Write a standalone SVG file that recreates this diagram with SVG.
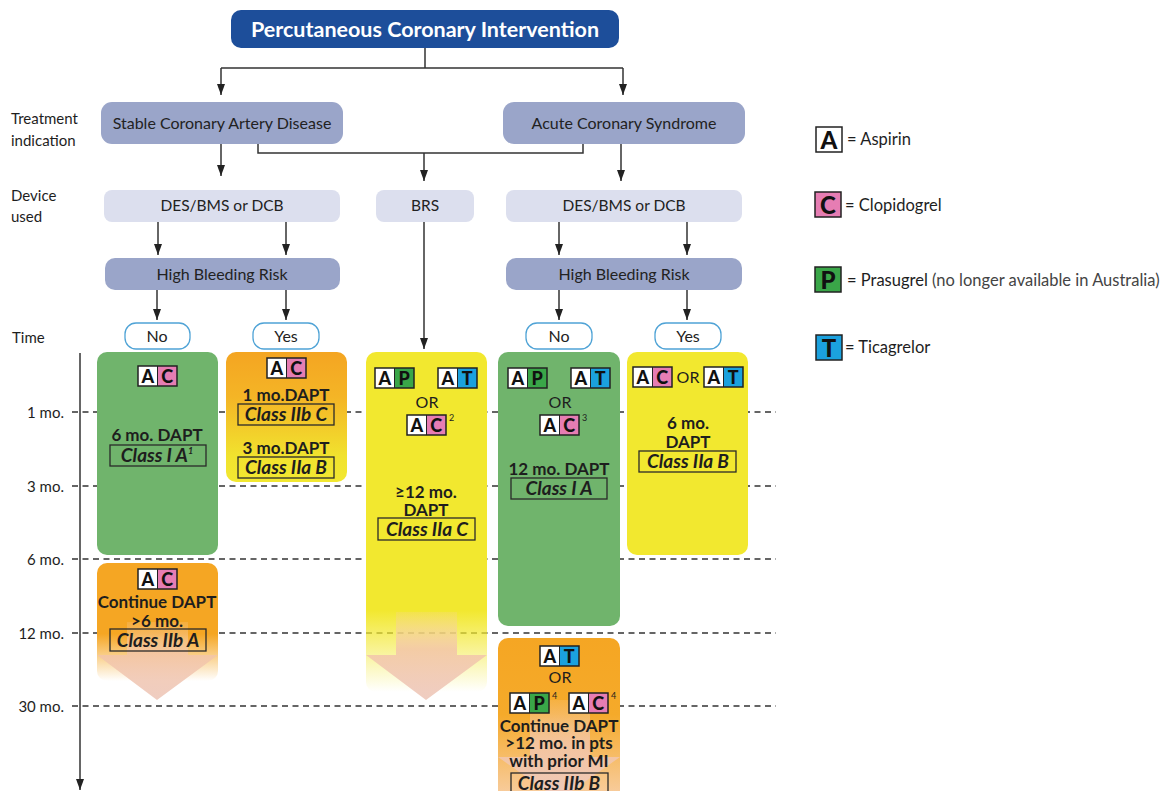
<svg xmlns="http://www.w3.org/2000/svg" width="1169" height="791" viewBox="0 0 1169 791">
<defs>
<style>
text { font-family: Lato, "Open Sans", "Liberation Sans", sans-serif; fill:#1e1e1e; }
.title { font-size:21.5px; font-weight:700; fill:#ffffff; text-anchor:middle; }
.lbl { font-size:16px; text-anchor:middle; fill:#222; }
.dl { font-size:15.5px; text-anchor:middle; fill:#222; }
.side { font-size:15px; }
.tick { font-size:15px; text-anchor:end; }
.hd { font-size:17px; font-weight:700; text-anchor:middle; }
.cls { font-size:19px; font-weight:700; font-style:italic; text-anchor:middle; }
.clsbox { fill:none; stroke:#2a2a2a; stroke-width:1.3; }
.or { font-size:16px; text-anchor:middle; }
.bl { font-size:18px; font-weight:900; text-anchor:middle; fill:#111; }
.blL { font-size:24px; font-weight:900; text-anchor:middle; fill:#111; }
.sup { font-size:9px; }
.leg { font-size:16.5px; }
.legs { font-size:16.5px; fill:#444; }
.ind { fill:#9aa5c9; }
.dev { fill:#dcdfee; }
.pill { fill:#ffffff; stroke:#4fa3d6; stroke-width:1.3; }
.conn { fill:none; stroke:#333; stroke-width:1.5; }
.dash { stroke:#333; stroke-width:1.3; stroke-dasharray:6 4.5; }
.sqA { fill:#ffffff; } .sqC { fill:#e67db3; } .sqP { fill:#3aa648; } .sqT { fill:#1ba1de; }
.bord { fill:none; stroke:#222; stroke-width:1.5; }
.div { stroke:#222; stroke-width:1; }
</style>
<marker id="arr" viewBox="0 0 11 8" refX="11" refY="4" markerWidth="11" markerHeight="8" markerUnits="userSpaceOnUse" orient="auto">
<path d="M0,0 L11,4 L0,8 z" fill="#222"/>
</marker>
<linearGradient id="gOY" x1="0" y1="0" x2="0" y2="1">
<stop offset="0" stop-color="#f4a522"/><stop offset="0.35" stop-color="#f4b526"/><stop offset="0.8" stop-color="#f1e22e"/><stop offset="1" stop-color="#f2e831"/>
</linearGradient>
<linearGradient id="gFadeO" x1="0" y1="0" x2="0" y2="1">
<stop offset="0" stop-color="#f5a623"/><stop offset="0.6" stop-color="#f5a623"/><stop offset="1" stop-color="#f5a623" stop-opacity="0"/>
</linearGradient>
<linearGradient id="gFadeY" x1="0" y1="0" x2="0" y2="1">
<stop offset="0" stop-color="#f2e82f"/><stop offset="0.76" stop-color="#f2e82f"/><stop offset="1" stop-color="#f2e82f" stop-opacity="0"/>
</linearGradient>
<linearGradient id="gOP" x1="0" y1="0" x2="0" y2="1">
<stop offset="0" stop-color="#f5a623"/><stop offset="0.45" stop-color="#f5aa2a"/><stop offset="1" stop-color="#f8d2b2"/>
</linearGradient>
<linearGradient id="gPeach" x1="0" y1="0" x2="0" y2="1">
<stop offset="0" stop-color="#f8d0a8" stop-opacity="0.2"/><stop offset="0.42" stop-color="#f3c5a8" stop-opacity="0.85"/><stop offset="1" stop-color="#eecabe" stop-opacity="0.95"/>
</linearGradient>
<g id="bAC"><rect class="sqA" width="19.5" height="20"/><rect class="sqC" x="19.5" width="19.5" height="20"/><rect class="bord" width="39" height="20"/><line class="div" x1="19.5" y1="0" x2="19.5" y2="20"/><text class="bl" x="9.75" y="16.8">A</text><text class="bl" x="29.25" y="16.8">C</text></g>
<g id="bAP"><rect class="sqA" width="19.5" height="20"/><rect class="sqP" x="19.5" width="19.5" height="20"/><rect class="bord" width="39" height="20"/><line class="div" x1="19.5" y1="0" x2="19.5" y2="20"/><text class="bl" x="9.75" y="16.8">A</text><text class="bl" x="29.25" y="16.8">P</text></g>
<g id="bAT"><rect class="sqA" width="19.5" height="20"/><rect class="sqT" x="19.5" width="19.5" height="20"/><rect class="bord" width="39" height="20"/><line class="div" x1="19.5" y1="0" x2="19.5" y2="20"/><text class="bl" x="9.75" y="16.8">A</text><text class="bl" x="29.25" y="16.8">T</text></g>
</defs>

<rect width="1169" height="791" fill="#ffffff"/>

<g id="timeline">
<text class="side" x="11" y="124">Treatment</text>
<text class="side" x="11" y="146">indication</text>
<text class="side" x="11" y="201">Device</text>
<text class="side" x="11" y="222">used</text>
<text class="side" x="12" y="343">Time</text>
<text class="tick" x="64" y="418">1 mo.</text>
<text class="tick" x="64" y="492">3 mo.</text>
<text class="tick" x="64" y="565">6 mo.</text>
<text class="tick" x="64" y="639">12 mo.</text>
<text class="tick" x="64" y="712">30 mo.</text>
<line class="dash" x1="72" y1="412" x2="776" y2="412"/>
<line class="dash" x1="72" y1="486" x2="776" y2="486"/>
<line class="dash" x1="72" y1="559" x2="776" y2="559"/>
<line class="dash" x1="72" y1="633" x2="776" y2="633"/>
<line class="dash" x1="72" y1="706" x2="776" y2="706"/>
<line x1="80" y1="353" x2="80" y2="790" stroke="#333" stroke-width="1.5" marker-end="url(#arr)"/>
</g>

<g id="pci"><rect x="231" y="10" width="388" height="38" rx="10" fill="#1d4e9a"/><text class="title" x="425" y="37">Percutaneous Coronary Intervention</text></g>
<g id="scad"><rect class="ind" x="101" y="102" width="242" height="42" rx="11"/><text class="lbl" x="222" y="129">Stable Coronary Artery Disease</text></g>
<g id="acs"><rect class="ind" x="503" y="102" width="242" height="42" rx="11"/><text class="lbl" x="624" y="129">Acute Coronary Syndrome</text></g>
<g id="dev-left"><rect class="dev" x="104" y="190" width="236" height="32" rx="8"/><text class="dl" x="222" y="211">DES/BMS or DCB</text></g>
<g id="dev-brs"><rect class="dev" x="376" y="190" width="98" height="32" rx="8"/><text class="dl" x="425" y="211">BRS</text></g>
<g id="dev-right"><rect class="dev" x="506" y="190" width="236" height="32" rx="8"/><text class="dl" x="624" y="211">DES/BMS or DCB</text></g>
<g id="hbr-left"><rect class="ind" x="105" y="258" width="235" height="32" rx="10"/><text class="lbl" x="222" y="280">High Bleeding Risk</text></g>
<g id="hbr-right"><rect class="ind" x="506" y="258" width="236" height="32" rx="10"/><text class="lbl" x="624" y="280">High Bleeding Risk</text></g>
<g id="no-left"><rect class="pill" x="125" y="323" width="65" height="26" rx="11"/><text class="lbl" x="157" y="342">No</text></g>
<g id="yes-left"><rect class="pill" x="253" y="323" width="66" height="26" rx="11"/><text class="lbl" x="286" y="342">Yes</text></g>
<g id="no-right"><rect class="pill" x="526" y="323" width="66" height="26" rx="11"/><text class="lbl" x="559" y="342">No</text></g>
<g id="yes-right"><rect class="pill" x="655" y="323" width="66" height="26" rx="11"/><text class="lbl" x="688" y="342">Yes</text></g>

<g id="connectors">
<path class="conn" d="M425,48 V68 M221,68 H623"/>
<path class="conn" d="M221,68 V95" marker-end="url(#arr)"/>
<path class="conn" d="M623,68 V95" marker-end="url(#arr)"/>
<path class="conn" d="M221,144 V176" marker-end="url(#arr)"/>
<path class="conn" d="M258,144 V153 H583 V144"/>
<path class="conn" d="M424,153 V181" marker-end="url(#arr)"/>
<path class="conn" d="M621,144 V181" marker-end="url(#arr)"/>
<path class="conn" d="M158,222 V255" marker-end="url(#arr)"/>
<path class="conn" d="M286,222 V255" marker-end="url(#arr)"/>
<path class="conn" d="M559,222 V255" marker-end="url(#arr)"/>
<path class="conn" d="M687,222 V255" marker-end="url(#arr)"/>
<path class="conn" d="M157,290 V320" marker-end="url(#arr)"/>
<path class="conn" d="M286,290 V320" marker-end="url(#arr)"/>
<path class="conn" d="M559,290 V320" marker-end="url(#arr)"/>
<path class="conn" d="M687,290 V320" marker-end="url(#arr)"/>
<path class="conn" d="M424,222 V349" marker-end="url(#arr)"/>
</g>

<g id="scad-no">
<rect x="97" y="352" width="121" height="203" rx="10" fill="#70b46c"/>
<use href="#bAC" x="138" y="366"/>
<text class="hd" x="157" y="441">6 mo. DAPT</text>
<rect class="clsbox" x="110" y="445" width="96" height="21"/>
<text class="cls" x="157" y="462">Class I A<tspan class="sup" dy="-8">1</tspan></text>
</g>

<g id="scad-yes">
<rect x="226" y="352" width="121" height="130" rx="10" fill="url(#gOY)"/>
<use href="#bAC" x="267" y="358"/>
<text class="hd" x="286" y="401">1 mo.DAPT</text>
<rect class="clsbox" x="238" y="404" width="96" height="21"/>
<text class="cls" x="286" y="421">Class IIb C</text>
<text class="hd" x="286" y="454">3 mo.DAPT</text>
<rect class="clsbox" x="238" y="457" width="96" height="21"/>
<text class="cls" x="286" y="474">Class IIa B</text>
</g>

<g id="scad-continue">
<rect x="97" y="563" width="121" height="118" rx="10" fill="url(#gFadeO)"/>
<polygon points="127,622 188,622 188,655 218,655 157,700 97,655 127,655" fill="url(#gPeach)"/>
<use href="#bAC" x="138" y="569"/>
<text class="hd" x="157" y="608">Continue DAPT</text>
<text class="hd" x="157" y="627">&gt;6 mo.</text>
<rect class="clsbox" x="110" y="629" width="96" height="22"/>
<text class="cls" x="158" y="647">Class IIb A</text>
</g>

<g id="brs">
<rect x="366" y="352" width="121" height="340" rx="10" fill="url(#gFadeY)"/>
<polygon points="396,612 457,612 457,655 487,655 426,700 366,655 396,655" fill="url(#gPeach)"/>
<use href="#bAP" x="375" y="368"/>
<use href="#bAT" x="438" y="368"/>
<text class="or" x="427" y="408">OR</text>
<use href="#bAC" x="407" y="415"/>
<text class="sup" x="449" y="421">2</text>
<text class="hd" x="426" y="498">≥12 mo.</text>
<text class="hd" x="426" y="516">DAPT</text>
<rect class="clsbox" x="378" y="518" width="97" height="22"/>
<text class="cls" x="427" y="536">Class IIa C</text>
</g>

<g id="acs-no">
<rect x="498" y="352" width="122" height="274" rx="10" fill="#70b46c"/>
<use href="#bAP" x="508" y="368"/>
<use href="#bAT" x="571" y="368"/>
<text class="or" x="560" y="408">OR</text>
<use href="#bAC" x="540" y="415"/>
<text class="sup" x="582" y="421">3</text>
<text class="hd" x="559" y="475">12 mo. DAPT</text>
<rect class="clsbox" x="511" y="478" width="96" height="21"/>
<text class="cls" x="559" y="495">Class I A</text>
</g>

<g id="acs-yes">
<rect x="627" y="352" width="121" height="203" rx="10" fill="#f2e82f"/>
<use href="#bAC" x="633" y="367"/>
<text class="or" x="688" y="383">OR</text>
<use href="#bAT" x="704" y="367"/>
<text class="hd" x="688" y="429">6 mo.</text>
<text class="hd" x="688" y="448">DAPT</text>
<rect class="clsbox" x="639" y="451" width="97" height="21"/>
<text class="cls" x="688" y="468">Class IIa B</text>
</g>

<g id="acs-continue">
<rect x="498" y="638" width="122" height="170" rx="10" fill="url(#gOP)"/>
<polygon points="530,700 590,700 590,757 620,757 559,800 498,757 530,757" fill="url(#gPeach)"/>
<use href="#bAT" x="540" y="646"/>
<text class="or" x="560" y="683">OR</text>
<use href="#bAP" x="510" y="693"/>
<text class="sup" x="552" y="699">4</text>
<use href="#bAC" x="569" y="693"/>
<text class="sup" x="611" y="699">4</text>
<text class="hd" x="559" y="732">Continue DAPT</text>
<text class="hd" x="559" y="749">&gt;12 mo. in pts</text>
<text class="hd" x="559" y="767">with prior MI</text>
<rect class="clsbox" x="511" y="773" width="97" height="22"/>
<text class="cls" x="559" y="790">Class IIb B</text>
</g>

<g id="legend">
<rect class="sqA" x="816" y="127" width="26" height="25"/><rect class="bord" x="816" y="127" width="26" height="25"/><text class="blL" x="829" y="148.5">A</text>
<text class="leg" x="847" y="145">= Aspirin</text>
<rect class="sqC" x="815" y="192" width="26" height="25"/><rect class="bord" x="815" y="192" width="26" height="25"/><text class="blL" x="828" y="213.5">C</text>
<text class="leg" x="845" y="211">= Clopidogrel</text>
<rect class="sqP" x="815" y="267" width="26" height="25"/><rect class="bord" x="815" y="267" width="26" height="25"/><text class="blL" x="828" y="288.5">P</text>
<text class="leg" x="847" y="286">= Prasugrel <tspan class="legs">(no longer available in Australia)</tspan></text>
<rect class="sqT" x="816" y="335" width="26" height="25"/><rect class="bord" x="816" y="335" width="26" height="25"/><text class="blL" x="829" y="356.5">T</text>
<text class="leg" x="845" y="353">= Ticagrelor</text>
</g>
</svg>
